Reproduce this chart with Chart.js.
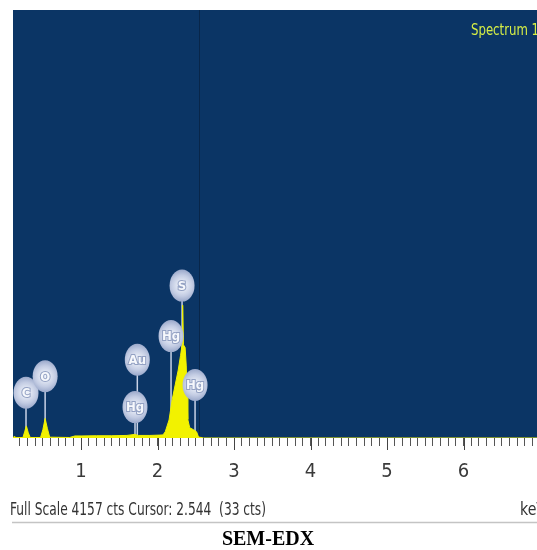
<!DOCTYPE html>
<html>
<head>
<meta charset="utf-8">
<script src="https://cdn.jsdelivr.net/npm/chart.js@4.4.1/dist/chart.umd.min.js"></script>
<style>
  html, body { margin: 0; padding: 0; background: #fff; }
  #wrap { width: 537px; height: 550px; position: relative; }
</style>
</head>
<body>
<div id="wrap"><canvas id="edxChart"></canvas></div>
<script>
// spectrum (keV / counts)
const energyKeV = [0.11, 0.124, 0.15, 0.24, 0.262, 0.285, 0.31, 0.335, 0.47, 0.50, 0.53, 0.56, 0.59,
  0.85, 0.92, 1.0, 1.2, 1.4, 1.6, 1.70, 1.75, 1.9, 2.02, 2.07, 2.10, 2.15, 2.19, 2.23, 2.27, 2.30,
  2.32, 2.328, 2.338, 2.36, 2.375, 2.385, 2.395, 2.42, 2.47, 2.51, 2.535, 2.6, 6.96];
const counts = [0, 15, 4, 5, 60, 117, 50, 5, 5, 80, 190, 90, 8,
  5, 20, 20, 22, 22, 25, 35, 25, 25, 28, 30, 60, 175, 370, 515, 660, 800,
  900, 1290, 905, 880, 700, 400, 180, 100, 80, 60, 10, 0, 0];

// element markers: label, line energy (keV), bubble height (cts)
const markerLabels = ['C', 'O', 'Au', 'Hg', 'Hg', 'S', 'Hg'];
const markerEnergy = [0.28, 0.53, 1.735, 1.705, 2.176, 2.32, 2.49];
const markerHeight = [440, 600, 760, 300, 990, 1480, 515];

const fullScale = 4157;
const cursorKeV = 2.544;
const cursorCounts = 33;
const energyMin = 0.11;
const energyMax = 6.96;
const spectrumName = 'Spectrum 1';
const captionText = 'SEM-EDX';

const narrow = "'Liberation Sans Narrow', 'DejaVu Sans Condensed', 'Roboto Condensed', sans-serif";
const plotBlue = '#0b3565';

const isMajor = v => Math.abs(v - Math.round(v)) < 1e-6;

const edxDecor = {
  id: 'edxDecor',
  beforeDraw(chart) {
    const { ctx, chartArea: a } = chart;
    ctx.save();
    ctx.fillStyle = '#fff';
    ctx.fillRect(0, 0, chart.width, chart.height);
    ctx.fillStyle = plotBlue;
    ctx.fillRect(a.left, a.top, a.right - a.left, a.bottom - a.top);
    ctx.restore();
  },
  beforeDatasetsDraw(chart) {
    const { ctx, chartArea: a, scales: { x, y } } = chart;
    ctx.save();
    // cursor
    const cx = Math.round(x.getPixelForValue(cursorKeV)) + 0.5;
    ctx.strokeStyle = '#08264a';
    ctx.lineWidth = 1;
    ctx.beginPath();
    ctx.moveTo(cx, a.top);
    ctx.lineTo(cx, a.bottom);
    ctx.stroke();
    // marker stems
    ctx.strokeStyle = '#c9d2e6';
    ctx.lineWidth = 1.5;
    markerEnergy.forEach((e, i) => {
      const px = x.getPixelForValue(e);
      ctx.beginPath();
      ctx.moveTo(px, y.getPixelForValue(markerHeight[i]));
      ctx.lineTo(px, y.getPixelForValue(0));
      ctx.stroke();
    });
    ctx.restore();
  },
  afterDatasetsDraw(chart) {
    const { ctx, scales: { x, y } } = chart;
    ctx.save();
    markerEnergy.forEach((e, i) => {
      const px = x.getPixelForValue(e);
      const py = y.getPixelForValue(markerHeight[i]);
      const g = ctx.createRadialGradient(px, py, 2, px, py, 16);
      g.addColorStop(0, '#eef2fa');
      g.addColorStop(0.6, '#c3cce3');
      g.addColorStop(1, '#9aa8ca');
      ctx.fillStyle = g;
      ctx.beginPath();
      ctx.ellipse(px, py, 12.5, 16, 0, 0, Math.PI * 2);
      ctx.fill();
      ctx.font = 'bold 13px ' + narrow;
      ctx.textAlign = 'center';
      ctx.textBaseline = 'middle';
      ctx.lineWidth = 2;
      ctx.strokeStyle = '#93a1c3';
      ctx.strokeText(markerLabels[i], px, py + 1);
      ctx.fillStyle = '#f6f8fc';
      ctx.fillText(markerLabels[i], px, py + 1);
    });
    ctx.restore();
  },
  afterDraw(chart) {
    const { ctx, chartArea: a, scales: { x } } = chart;
    ctx.save();
    // longer ticks at whole keV
    ctx.strokeStyle = '#444';
    ctx.lineWidth = 1;
    x.ticks.forEach(t => {
      if (!isMajor(t.value)) return;
      const px = Math.round(x.getPixelForValue(t.value)) + 0.5;
      ctx.beginPath();
      ctx.moveTo(px, a.bottom);
      ctx.lineTo(px, a.bottom + 12);
      ctx.stroke();
    });
    // spectrum name
    ctx.fillStyle = '#d6ee45';
    ctx.font = '16px ' + narrow;
    ctx.textAlign = 'left';
    ctx.textBaseline = 'alphabetic';
    ctx.fillText(spectrumName, 471, 35, 68);
    // status line
    ctx.fillStyle = '#333';
    ctx.font = '18px ' + narrow;
    ctx.fillText('Full Scale ' + fullScale + ' cts Cursor: ' + cursorKeV.toFixed(3) + '  (' + cursorCounts + ' cts)', 10, 515, 256);
    ctx.fillText('keV', 520, 515, 26);
    ctx.strokeStyle = '#c4c4c4';
    ctx.lineWidth = 1.5;
    ctx.beginPath();
    ctx.moveTo(12, 522.5);
    ctx.lineTo(537, 522.5);
    ctx.stroke();
    // caption
    ctx.fillStyle = '#000';
    ctx.font = 'bold 20px "Liberation Serif", "DejaVu Serif", serif';
    ctx.textAlign = 'center';
    ctx.fillText(captionText, 268, 545);
    ctx.restore();
  }
};

new Chart(document.getElementById('edxChart'), {
  type: 'line',
  data: {
    datasets: [{
      label: spectrumName,
      data: energyKeV.map((e, i) => ({ x: e, y: counts[i] })),
      borderColor: '#f2f200',
      backgroundColor: '#f2f200',
      borderWidth: 1,
      pointRadius: 0,
      tension: 0,
      fill: 'origin'
    }]
  },
  options: {
    responsive: true,
    maintainAspectRatio: false,
    animation: false,
    layout: { padding: { left: 13, top: 10, right: 0, bottom: 0 } },
    plugins: {
      legend: { display: false },
      title: { display: false },
      tooltip: { enabled: false }
    },
    scales: {
      x: {
        type: 'linear',
        min: energyMin,
        max: energyMax,
        afterFit: s => { s.height = 112; s.paddingLeft = 0; s.paddingRight = 0; },
        border: { display: false },
        grid: { drawOnChartArea: false, tickLength: 8, tickColor: '#555' },
        ticks: {
          stepSize: 0.1,
          includeBounds: false,
          autoSkip: false,
          maxRotation: 0,
          padding: 14,
          color: '#3a3a3a',
          font: { family: narrow, size: 20 },
          callback: v => isMajor(v) ? String(Math.round(v)) : ''
        }
      },
      y: {
        display: false,
        min: 0,
        max: fullScale
      }
    }
  },
  plugins: [edxDecor]
});
</script>
</body>
</html>
